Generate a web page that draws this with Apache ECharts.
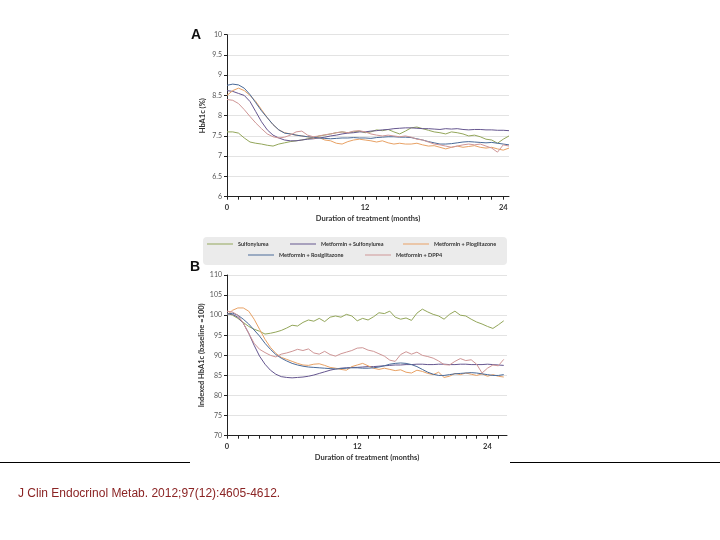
<!DOCTYPE html>
<html><head><meta charset="utf-8">
<script src="https://cdn.jsdelivr.net/npm/echarts@6/dist/echarts.min.js"></script>
<style>html,body{margin:0;padding:0;background:#fff}#c{width:720px;height:540px}</style>
</head><body><div id="c"></div>
<script>
// ---- data ----
const seriesNames = ['Sulfonylurea','Metformin + Sulfonylurea','Metformin + Pioglitazone','Metformin + Rosiglitazone','Metformin + DPP4'];
const monthsA = [0,0.5,1,1.5,2,2.5,3,3.5,4,4.5,5,5.5,6,6.5,7,7.5,8,8.5,9,9.5,10,10.5,11,11.5,12,12.5,13,13.5,14,14.5,15,15.5,16,16.5,17,17.5,18,18.5,19,19.5,20,20.5,21,21.5,22,22.5,23,23.5,24,24.5];
const monthsB = [0,0.5,1,1.5,2,2.5,3,3.5,4,4.5,5,5.5,6,6.5,7,7.5,8,8.5,9,9.5,10,10.5,11,11.5,12,12.5,13,13.5,14,14.5,15,15.5,16,16.5,17,17.5,18,18.5,19,19.5,20,20.5,21,21.5,22,22.5,23,23.5,24,24.5,25,25.5];

const aSulf = [7.60,7.60,7.57,7.45,7.35,7.32,7.30,7.27,7.25,7.30,7.33,7.36,7.38,7.40,7.43,7.45,7.50,7.52,7.55,7.58,7.60,7.58,7.60,7.62,7.58,7.60,7.65,7.63,7.66,7.60,7.55,7.62,7.70,7.72,7.68,7.64,7.60,7.58,7.55,7.60,7.58,7.55,7.50,7.52,7.48,7.42,7.40,7.32,7.42,7.50];
const aMetSulf = [8.62,8.60,8.55,8.50,8.35,8.10,7.85,7.65,7.52,7.45,7.40,7.38,7.38,7.40,7.42,7.43,7.45,7.47,7.50,7.52,7.55,7.57,7.58,7.60,7.60,7.62,7.63,7.65,7.66,7.68,7.69,7.70,7.70,7.69,7.68,7.68,7.67,7.66,7.68,7.67,7.68,7.66,7.65,7.66,7.66,7.65,7.65,7.64,7.64,7.63];
const aMetPio = [8.50,8.62,8.68,8.62,8.50,8.35,8.15,7.95,7.78,7.65,7.58,7.55,7.52,7.50,7.48,7.45,7.46,7.40,7.38,7.32,7.30,7.36,7.40,7.42,7.40,7.38,7.35,7.38,7.33,7.30,7.32,7.30,7.30,7.32,7.28,7.25,7.26,7.22,7.18,7.22,7.25,7.22,7.24,7.26,7.22,7.20,7.22,7.18,7.15,7.20];
const aMetRosi = [8.75,8.78,8.76,8.68,8.52,8.32,8.12,7.95,7.78,7.65,7.57,7.55,7.52,7.50,7.48,7.47,7.45,7.44,7.43,7.44,7.45,7.45,7.46,7.45,7.45,7.44,7.46,7.47,7.48,7.48,7.47,7.47,7.46,7.43,7.40,7.36,7.33,7.30,7.30,7.31,7.33,7.35,7.36,7.35,7.34,7.33,7.34,7.32,7.30,7.28];
const aMetDpp4 = [8.40,8.38,8.30,8.15,7.98,7.82,7.68,7.55,7.48,7.45,7.47,7.52,7.60,7.62,7.52,7.48,7.50,7.53,7.55,7.58,7.60,7.58,7.62,7.63,7.60,7.55,7.52,7.50,7.52,7.50,7.48,7.50,7.47,7.42,7.40,7.35,7.30,7.28,7.25,7.22,7.25,7.28,7.30,7.28,7.30,7.25,7.20,7.10,7.28,7.25];

const bSulf = [100.5,100.0,99.2,98.2,97.2,96.5,96.0,95.3,95.5,95.8,96.2,96.8,97.5,97.3,98.2,98.8,98.5,99.2,98.4,99.5,99.8,99.5,100.2,99.8,98.6,99.2,98.8,99.6,100.6,100.4,101.0,99.5,99.0,99.3,98.7,100.5,101.5,100.8,100.2,99.8,99.0,100.2,101.0,100.0,99.8,99.0,98.3,97.8,97.2,96.7,97.6,98.6];
const bMetSulf = [100.5,100.2,99.5,98.0,95.5,92.5,89.8,87.8,86.3,85.3,84.7,84.5,84.4,84.5,84.6,84.8,85.1,85.5,85.9,86.3,86.6,86.8,86.9,87.0,87.0,87.1,87.2,87.2,87.3,87.4,87.5,87.6,87.6,87.7,87.7,87.8,87.8,87.7,87.7,87.8,87.8,87.7,87.7,87.8,87.8,87.7,87.7,87.7,87.8,87.7,87.6,87.5];
const bMetPio = [100.0,101.2,101.8,101.8,101.0,99.0,96.5,94.0,92.0,90.5,89.5,89.0,88.5,88.0,87.6,87.5,87.8,87.9,87.5,87.0,86.8,86.5,86.3,87.2,87.6,88.0,87.4,86.8,86.5,86.8,86.5,86.2,86.4,85.8,85.6,86.3,86.0,85.5,85.2,85.8,84.5,84.8,85.5,85.2,85.6,85.3,85.0,85.4,84.8,85.2,84.8,84.6];
const bMetRosi = [100.2,100.5,100.0,99.0,97.8,96.3,94.8,93.0,91.5,90.2,89.3,88.6,88.0,87.6,87.3,87.1,87.0,86.9,86.8,86.7,86.6,86.7,86.8,86.9,86.9,86.8,86.8,86.9,87.1,87.4,87.8,88.0,88.1,88.0,87.7,87.2,86.5,85.8,85.3,85.0,85.0,85.2,85.4,85.5,85.6,85.7,85.6,85.4,85.2,85.0,85.0,85.2];
const bMetDpp4 = [101.0,100.8,100.0,98.0,95.5,93.0,91.5,90.7,90.0,89.6,90.3,90.6,91.0,91.5,91.2,91.6,90.6,90.3,91.0,90.2,89.8,90.4,90.8,91.2,91.8,91.9,91.3,91.0,90.4,89.8,88.8,88.5,90.2,90.9,90.3,90.8,90.0,89.7,89.3,88.6,87.7,87.6,88.5,89.2,88.7,88.9,87.8,85.6,86.8,87.6,87.4,89.0];

const xTickLabels = [0,12,24];
const xTicksA = [0,1,2,3,4,5,6,7,8,9,10,11,12,13,14,15,16,17,18,19,20,21,22,23,24];
const xTicksB = [0,1,2,3,4,5,6,7,8,9,10,11,12,13,14,15,16,17,18,19,20,21,22,23,24,25];
const citation = 'J Clin Endocrinol Metab. 2012;97(12):4605-4612.';

// ---- styles ----
const colors = ['#93a65a','#65568f','#e8a164','#4a6a98','#cf9696'];
const FONT = 'Lato, "Liberation Sans", sans-serif';

const seriesA = [aSulf,aMetSulf,aMetPio,aMetRosi,aMetDpp4];
const seriesB = [bSulf,bMetSulf,bMetPio,bMetRosi,bMetDpp4];
const zip = (xs, ys) => xs.map((x,i)=>[x, ys[i]]);

function xAxis(gridIndex, max, ticks, gap){
  return {
    type:'value', gridIndex, min:0, max, interval:12,
    name:'Duration of treatment (months)', nameLocation:'middle', nameGap:gap,
    nameTextStyle:{fontSize:7.5, fontWeight:'bold', color:'#333', fontFamily:FONT},
    axisLine:{show:true, lineStyle:{color:'#222', width:1}},
    axisTick:{show:true, customValues:ticks, length:3, lineStyle:{color:'#222'}},
    axisLabel:{customValues:xTickLabels, fontSize:7.5, fontWeight:'bold', color:'#333', margin:7, fontFamily:FONT},
    splitLine:{show:false}
  };
}
function yAxis(gridIndex, min, max, interval, name, gap){
  return {
    type:'value', gridIndex, min, max, interval,
    name, nameLocation:'middle', nameGap:gap, nameRotate:90,
    nameTextStyle:{fontSize:7.5, fontWeight:'bold', color:'#333', fontFamily:FONT},
    axisLine:{show:true, lineStyle:{color:'#222', width:1}},
    axisTick:{show:true, length:3, lineStyle:{color:'#222'}},
    axisLabel:{fontSize:7, color:'#555', margin:5, fontFamily:FONT},
    splitLine:{show:true, lineStyle:{color:'#dcdcdc', width:0.8}}
  };
}

const series = [];
seriesNames.forEach((n,i)=>{
  series.push({name:n, type:'line', xAxisIndex:0, yAxisIndex:0, data:zip(monthsA, seriesA[i]),
    showSymbol:false, symbol:'none', lineStyle:{width:1, color:colors[i]}, itemStyle:{color:colors[i]}});
});
seriesNames.forEach((n,i)=>{
  series.push({name:n, type:'line', xAxisIndex:1, yAxisIndex:1, data:zip(monthsB, seriesB[i]),
    showSymbol:false, symbol:'none', lineStyle:{width:1, color:colors[i]}, itemStyle:{color:colors[i]}});
});

const legendPos = [[207,241],[290,241],[403,241],[248,252],[365,252]];
const legends = seriesNames.map((n,i)=>({
  data:[n], left:legendPos[i][0], top:legendPos[i][1], icon:'rect', itemWidth:26, itemHeight:1,
  itemGap:5, padding:0, selectedMode:false,
  textStyle:{fontSize:5.5, fontWeight:'bold', color:'#333', fontFamily:FONT}
}));

const chart = echarts.init(document.getElementById('c'), null, {renderer:'canvas'});
chart.setOption({
  animation:false,
  backgroundColor:'#fff',
  color:colors,
  grid:[
    {left:227, top:34.7, width:282, height:162},
    {left:227, top:275, width:280, height:160.7}
  ],
  xAxis:[xAxis(0, 24.5, xTicksA, 18), xAxis(1, 25.8, xTicksB, 18)],
  yAxis:[yAxis(0, 6, 10, 0.5, 'HbA1c (%)', 20), yAxis(1, 70, 110, 5, 'Indexed HbA1c (baseline =100)', 20)],
  legend:legends,
  series,
  graphic:[
    {type:'line', shape:{x1:0,y1:462.5,x2:190,y2:462.5}, style:{stroke:'#000', lineWidth:1}, z:-1},
    {type:'line', shape:{x1:510,y1:462.5,x2:720,y2:462.5}, style:{stroke:'#000', lineWidth:1}, z:-1},
    {type:'rect', shape:{x:203,y:237,width:304,height:28,r:4}, style:{fill:'#ebebeb'}, z:-1},
    {type:'text', left:191, top:28, style:{text:'A', font:'bold 14px "Liberation Sans", Arial, sans-serif', fill:'#111'}},
    {type:'text', left:190, top:260, style:{text:'B', font:'bold 14px "Liberation Sans", Arial, sans-serif', fill:'#111'}},
    {type:'text', left:18, top:488, style:{text:citation, font:'12px "Liberation Sans", Arial, sans-serif', fill:'#8b2424'}}
  ]
});
</script>
</body></html>
